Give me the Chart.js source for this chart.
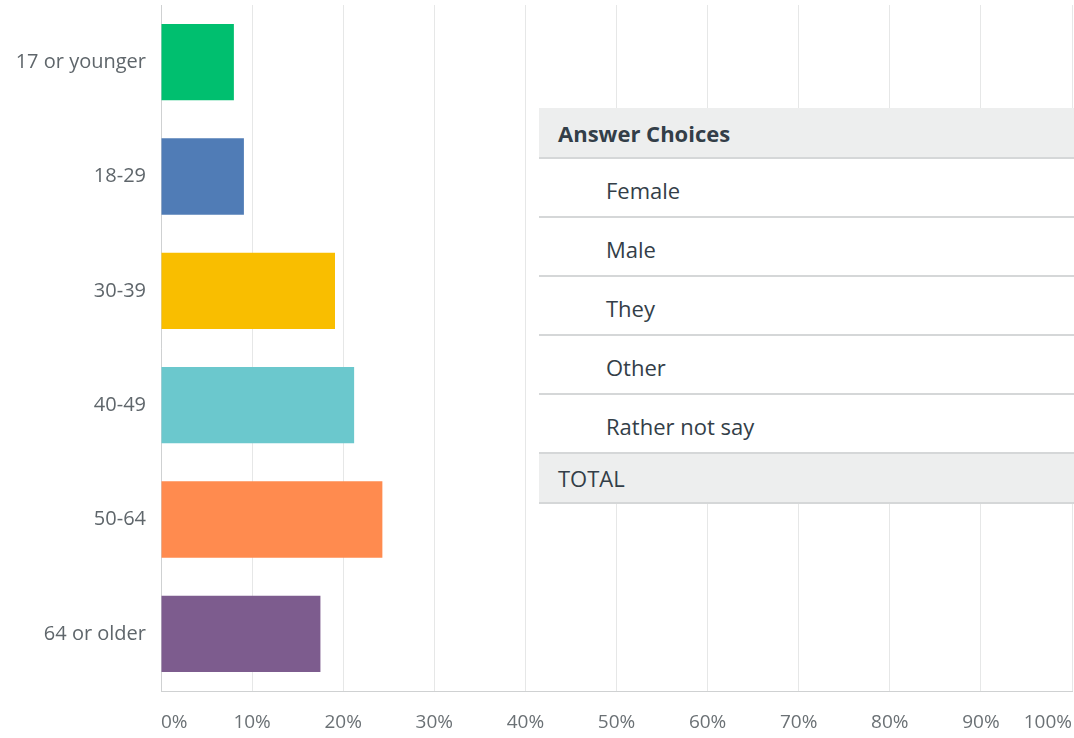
<!DOCTYPE html>
<html>
<head>
<meta charset="utf-8">
<script src="https://cdn.jsdelivr.net/npm/chart.js@4"></script>
<style>
  html, body { margin: 0; padding: 0; background: #fff; }
  #wrap { position: relative; width: 1074px; height: 738px; }
  #ageChart { position: absolute; left: 0; top: 0; }
  #answers {
    position: absolute; left: 539px; top: 108px; width: 535px;
    border-collapse: collapse; background: #fff;
    font-family: "Open Sans", sans-serif; color: #333e48;
  }
  #answers td {
    padding: 0; border-bottom: 2px solid #d5d7d8; height: 57px;
    font-size: 22px; line-height: 26px; padding-top: 4px; box-sizing: border-box;
  }
  #answers tr.head td, #answers tr.total td { background: #edeeee; height: 50px; padding-left: 19px; padding-top: 0; }
  #answers tr.head td { font-weight: 700; }
  #answers td.choice { padding-left: 67px; height: 59px; }
</style>
</head>
<body>
<div id="wrap">
  <canvas id="ageChart" width="1074" height="738"></canvas>
  <table id="answers"></table>
</div>
<script>
// age groups and share of respondents (%)
const ageGroups = ['17 or younger', '18-29', '30-39', '40-49', '50-64', '64 or older'];
const shares = [8.0, 9.1, 19.1, 21.2, 24.3, 17.5];
const barColors = ['#00bf6f', '#507cb6', '#f9be00', '#6bc8cd', '#ff8b4f', '#7d5c8e'];
const tickValues = [0, 10, 20, 30, 40, 50, 60, 70, 80, 90, 100];

// gender answer table rows
const answerChoices = ['Female', 'Male', 'They', 'Other', 'Rather not say'];

document.addEventListener('DOMContentLoaded', function() {
    const table = document.getElementById('answers');
    let html = '<tr class="head"><td>Answer Choices</td></tr>';
    answerChoices.forEach(choice => {
        html += `<tr><td class="choice">${choice}</td></tr>`;
    });
    html += '<tr class="total"><td>TOTAL</td></tr>';
    table.innerHTML = html;

    const ctx = document.getElementById('ageChart').getContext('2d');
    new Chart(ctx, {
        type: 'bar',
        data: {
            labels: ageGroups,
            datasets: [{
                data: shares,
                backgroundColor: barColors,
                borderWidth: 0,
                barPercentage: 0.667,
                categoryPercentage: 1
            }]
        },
        options: {
            indexAxis: 'y',
            responsive: false,
            animation: false,
            layout: { padding: { top: 5, right: 2, left: 0, bottom: 0 } },
            plugins: { legend: { display: false }, tooltip: { enabled: false } },
            scales: {
                x: {
                    min: 0,
                    max: 100,
                    afterBuildTicks: axis => { axis.ticks = tickValues.map(v => ({ value: v })); },
                    afterFit: axis => {
                        axis.height = 47;
                        axis.paddingLeft = 0;
                        axis.paddingRight = 0;
                    },
                    grid: { color: '#e6e7e7', lineWidth: 1, drawTicks: false },
                    border: { color: '#cfd1d2', width: 1 },
                    ticks: {
                        align: 'inner',
                        padding: 20,
                        color: '#6b7175',
                        font: { family: 'Open Sans', size: 19 },
                        callback: v => v + '%'
                    }
                },
                y: {
                    afterFit: axis => {
                        axis.width = 161;
                        axis.paddingTop = 0;
                        axis.paddingBottom = 0;
                    },
                    grid: { display: false, drawTicks: false },
                    border: { color: '#cfd1d2', width: 1 },
                    ticks: {
                        padding: 15,
                        color: '#5f666b',
                        font: { family: 'Open Sans', size: 20 }
                    }
                }
            }
        }
    });
});
</script>
</body>
</html>
